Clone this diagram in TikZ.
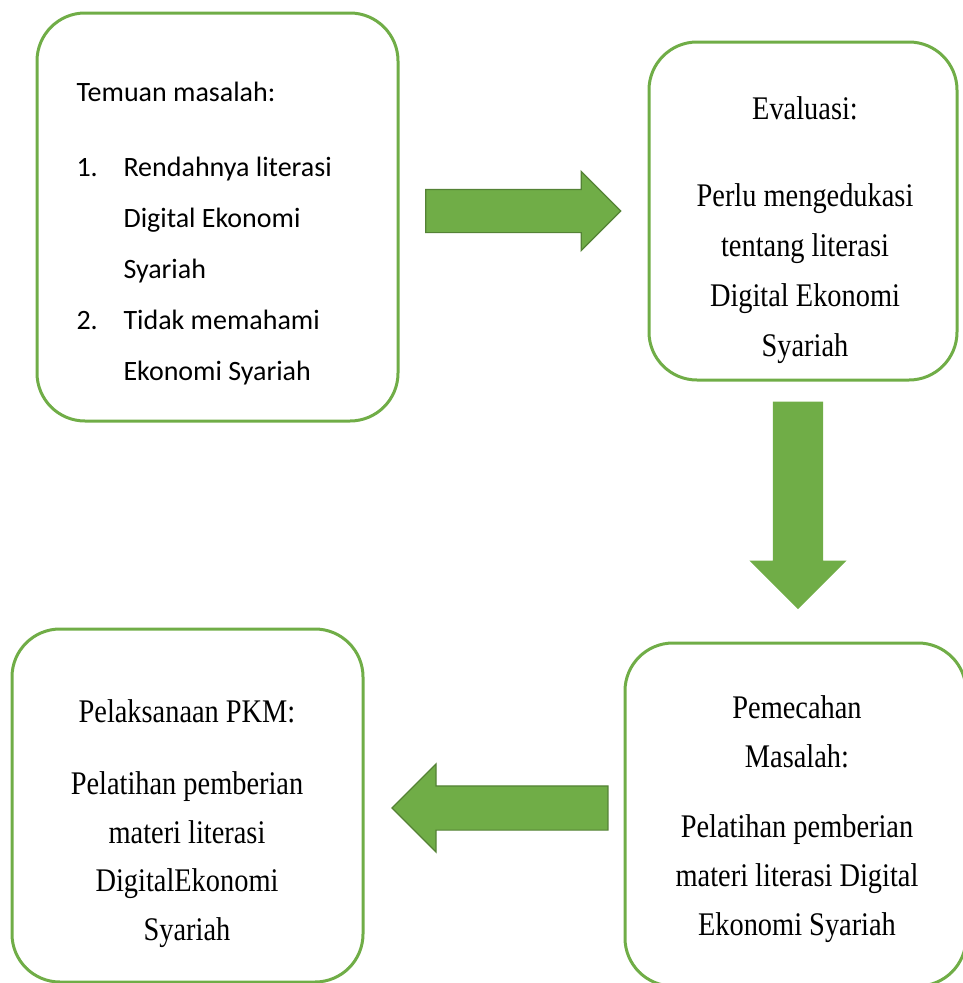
\documentclass[tikz,border=0pt]{standalone}
\usepackage{fontspec}
\setmainfont[FakeStretch=0.86]{Liberation Serif}
\newfontfamily\calibrifont{Carlito}
\usetikzlibrary{shapes.arrows}

\definecolor{boxgreen}{HTML}{70AD47}
\definecolor{arrowedge}{HTML}{548235}

\tikzset{
  stepbox/.style={draw=boxgreen, line width=3pt, rounded corners=48pt, inner sep=0pt},
  blockarrow/.style={single arrow, fill=boxgreen, draw=arrowedge, line width=1.2pt,
    single arrow head indent=0pt, single arrow tip angle=90},
  steptext/.style={align=center, anchor=base}
}

\begin{document}
\begin{tikzpicture}[x=1pt,y=-1pt]
\useasboundingbox (0,0) rectangle (963,983);

   % the four boxes
   \node[stepbox, minimum width=361pt, minimum height=408pt] at (217.5,217) (temuan) {};
   \node[stepbox, minimum width=308pt, minimum height=338pt] at (803,211) (evaluasi) {};
   \node[stepbox, minimum width=341pt, minimum height=343pt] at (795.5,814.5) (pemecahan) {};
   \node[stepbox, minimum width=351pt, minimum height=353pt] at (187.5,805.5) (pkm) {};

   % texts (base = baseline of the last line)
   \node[align=left, anchor=base west, font=\calibrifont\fontsize{28}{51}\selectfont]
      at (73,380) (temuantext)
      {Temuan masalah:\\[24pt]
       \makebox[47pt][l]{1.}Rendahnya literasi\\
       \hspace*{47pt}Digital Ekonomi\\
       \hspace*{47pt}Syariah\\
       \makebox[47pt][l]{2.}Tidak memahami\\
       \hspace*{47pt}Ekonomi Syariah};

   \node[steptext, font=\fontsize{33}{50}\selectfont] at (805,356) (evaluasitext)
      {Evaluasi:\\[37pt] Perlu mengedukasi\\ tentang literasi\\ Digital Ekonomi\\ Syariah};

   \node[steptext, font=\fontsize{33}{49}\selectfont] at (797,935) (pemecahantext)
      {Pemecahan\\ Masalah:\\[21pt] Pelatihan pemberian\\ materi literasi Digital\\ Ekonomi Syariah};

   \node[steptext, font=\fontsize{33}{48.5}\selectfont] at (187,940) (pkmtext)
      {Pelaksanaan PKM:\\[23.5pt] Pelatihan pemberian\\ materi literasi\\ DigitalEkonomi\\ Syariah};

   % block arrows
   \node[blockarrow, inner sep=21pt, single arrow head extend=18pt, minimum height=195pt]
      at (512.5,211) (toevaluasi) {};
   \node[blockarrow, draw=boxgreen, inner sep=24pt, single arrow head extend=22.5pt,
      minimum height=206pt, shape border rotate=270] at (798,493) (topemecahan) {};
   \node[blockarrow, inner sep=21.5pt, single arrow head extend=22pt, minimum height=216pt,
      shape border rotate=180] at (511,808) (topkm) {};

\end{tikzpicture}
\end{document}
